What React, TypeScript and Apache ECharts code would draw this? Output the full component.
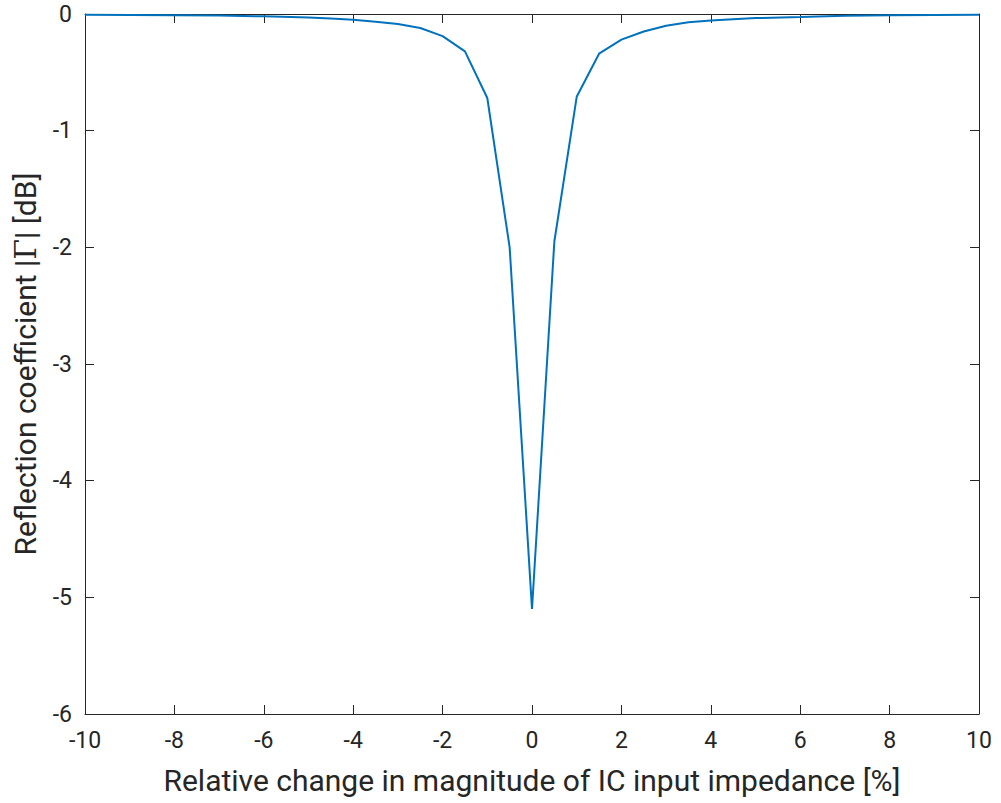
import React, { useEffect, useRef } from "react";
import * as echarts from "echarts";

const xValues = [-10, -9, -8, -7, -6, -5, -4.5, -4, -3.5, -3, -2.5, -2, -1.5, -1, -0.5, 0, 0.5, 1, 1.5, 2, 2.5, 3, 3.5, 4, 4.5, 5, 6, 7, 8, 9, 10];
const yValues = [-0.006, -0.008, -0.01, -0.013, -0.02, -0.03, -0.038, -0.05, -0.066, -0.086, -0.12, -0.19, -0.32, -0.72, -2.0, -5.1, -1.95, -0.71, -0.34, -0.22, -0.15, -0.1, -0.07, -0.055, -0.045, -0.035, -0.026, -0.016, -0.01, -0.008, -0.006];

const xTitle = "Relative change in magnitude of IC input impedance [%]";
const yTitle = "Reflection coefficient |{g|Γ}| [dB]";

const AXIS_COLOR = "#262626";
const LINE_COLOR = "#0072BD";
const FONT = "Roboto";

export default function App() {
  const ref = useRef<HTMLDivElement>(null);
  useEffect(() => {
    if (!ref.current) return;
    const chart = echarts.init(ref.current, undefined, { renderer: "svg" });
    const data = xValues.map((x, i) => [x, yValues[i]]);
    const axisCommon = {
      axisLine: { show: true, onZero: false, lineStyle: { color: AXIS_COLOR, width: 1 } },
      axisTick: { show: true, inside: true, length: 9, lineStyle: { color: AXIS_COLOR } },
      splitLine: { show: false },
    };
    chart.setOption({
      animation: false,
      backgroundColor: "#ffffff",
      grid: { left: 85, right: 22, top: 14, bottom: 89, containLabel: false },
      xAxis: [
        {
          type: "value",
          min: -10,
          max: 10,
          interval: 2,
          position: "bottom",
          ...axisCommon,
          axisLabel: { color: AXIS_COLOR, fontSize: 23, fontFamily: FONT, margin: 15 },
          name: xTitle,
          nameLocation: "middle",
          nameGap: 51,
          nameTextStyle: { color: AXIS_COLOR, fontSize: 30, fontFamily: FONT },
        },
        {
          type: "value",
          min: -10,
          max: 10,
          interval: 2,
          position: "top",
          ...axisCommon,
          axisLabel: { show: false },
        },
      ],
      yAxis: [
        {
          type: "value",
          min: -6,
          max: 0,
          interval: 1,
          position: "left",
          ...axisCommon,
          axisLabel: { color: AXIS_COLOR, fontSize: 23, fontFamily: FONT, margin: 13 },
          name: yTitle,
          nameLocation: "middle",
          nameGap: 45,
          nameRotate: 90,
          nameTextStyle: {
            color: AXIS_COLOR,
            fontSize: 30,
            fontFamily: FONT,
            rich: { g: { fontSize: 30, fontFamily: "DejaVu Serif", color: AXIS_COLOR } },
          },
        },
        {
          type: "value",
          min: -6,
          max: 0,
          interval: 1,
          position: "right",
          ...axisCommon,
          axisLabel: { show: false },
        },
      ],
      series: [
        {
          type: "line",
          data,
          showSymbol: false,
          symbol: "none",
          lineStyle: { color: LINE_COLOR, width: 2 },
          xAxisIndex: 0,
          yAxisIndex: 0,
          z: 1,
        },
      ],
    });
    return () => chart.dispose();
  }, []);
  return (
    <div
      ref={ref}
      style={{ position: "absolute", left: 0, top: 0, width: 1001, height: 803 }}
    />
  );
}
